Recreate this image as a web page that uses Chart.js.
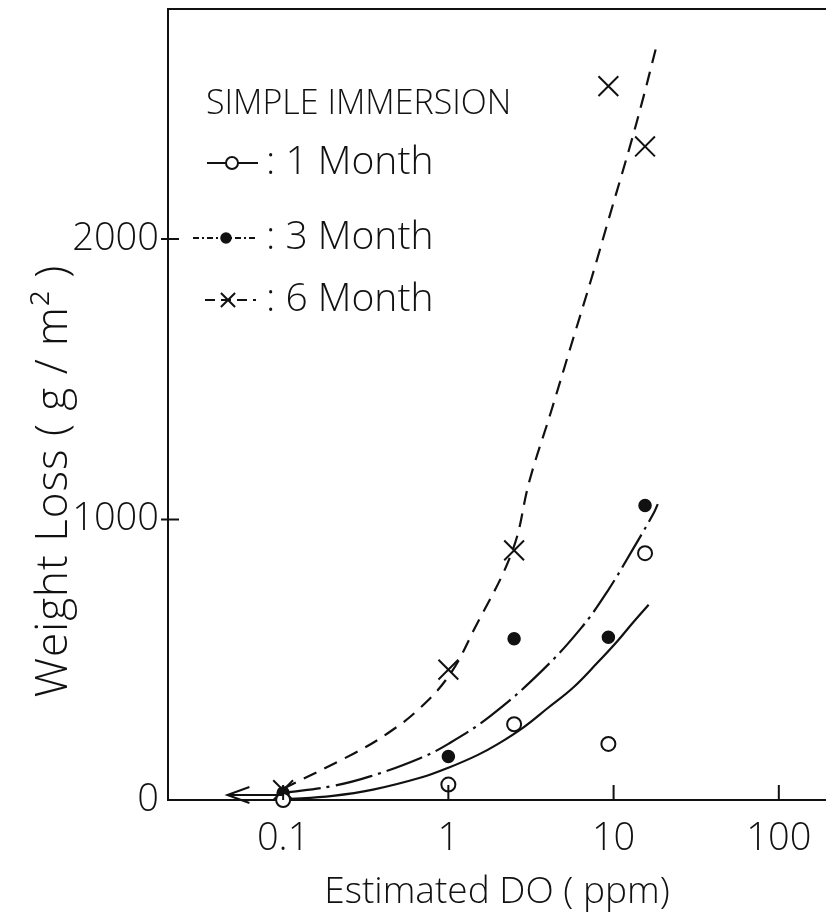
<!DOCTYPE html>
<html>
<head>
<meta charset="utf-8">
<script src="https://cdn.jsdelivr.net/npm/chart.js@4/dist/chart.umd.min.js"></script>
<style>
  html, body { margin: 0; padding: 0; background: #fff; }
  canvas { display: block; }
</style>
</head>
<body>
<canvas id="c" width="826" height="921"></canvas>
<script>
// Measured weight loss at each dissolved-oxygen level
const doPpm = [0.1, 1, 2.5, 9.3, 15.5];
const loss1Month = [0, 55, 270, 200, 880];
const loss3Month = [25, 155, 575, 580, 1050];
const loss6Month = [35, 465, 890, 2545, 2330];

// Hand-drawn trend curves through each series
const fit1Do   = [0.1, 0.2, 0.35, 0.7, 1, 1.5, 2, 2.85, 4, 5.7, 8, 10.6, 13, 16.3];
const fit1Loss = [2, 15, 37, 82, 115, 160, 200, 259, 328, 401, 490, 568, 630, 696];

const fit3Do   = [0.1, 0.2, 0.34, 0.68, 1, 1.8, 3.6, 6.3, 9.2, 13.2, 17.5, 18.5];
const fit3Loss = [25, 50, 85, 150, 200, 300, 455, 610, 745, 898, 1023, 1055];

const fit6Do   = [0.1, 0.27, 0.43, 0.68, 1.03, 1.42, 2.44, 3.1, 4.15, 5.5, 7.3, 9.6, 12.5, 15.0, 18.0];
const fit6Loss = [40, 167, 238, 330, 451, 604, 888, 1139, 1378, 1616, 1854, 2095, 2326, 2496, 2678];

// Axis ticks
const xTickValues = [0.1, 1, 10, 100];
const xTickLabels = ['0.1', '1', '10', '100'];
const yTickValues = [0, 1000, 2000];
const yTickLabels = ['0', '1000', '2000'];

// Values below detection: arrow pointing to lower DO
const arrowFromDo = 0.1;
const arrowToDo = 0.046;
const arrowLoss = 18;

const seriesNames = ['1 Month', '3 Month', '6 Month'];
const keyTitle = 'SIMPLE IMMERSION';
const yTitle = 'Weight Loss ( g / m\u00B2 )';

const FONT = "'Open Sans', 'DejaVu Sans', sans-serif";
const INK = '#111';

const pts = (xs, ys) => xs.map((x, i) => ({ x: x, y: ys[i] }));

const dashDot = [38, 6, 3, 6];
const dashed = [14, 9];

const data = {
  datasets: [
    { label: seriesNames[0] + ' fit', data: pts(fit1Do, fit1Loss), borderColor: INK, borderWidth: 2.2,
      pointRadius: 0, tension: 0.4, fill: false, showLine: true, order: 5 },
    { label: seriesNames[1] + ' fit', data: pts(fit3Do, fit3Loss), borderColor: INK, borderWidth: 2.2,
      borderDash: dashDot, pointRadius: 0, tension: 0.4, fill: false, showLine: true, order: 5 },
    { label: seriesNames[2] + ' fit', data: pts(fit6Do, fit6Loss), borderColor: INK, borderWidth: 2.2,
      borderDash: dashed, pointRadius: 0, tension: 0.4, fill: false, showLine: true, order: 5 },
    { label: seriesNames[0], data: pts(doPpm, loss1Month), showLine: false, pointStyle: 'circle',
      pointRadius: 7, pointBorderWidth: 2, pointBorderColor: INK, pointBackgroundColor: '#fff', clip: false, order: 1 },
    { label: seriesNames[1], data: pts(doPpm, loss3Month), showLine: false, pointStyle: 'circle',
      pointRadius: 6, pointBorderWidth: 1.5, pointBorderColor: INK, pointBackgroundColor: INK, clip: false, order: 1 },
    { label: seriesNames[2], data: pts(doPpm, loss6Month), showLine: false, pointStyle: 'crossRot',
      pointRadius: 14, pointBorderWidth: 2, pointBorderColor: INK, pointBackgroundColor: INK, clip: false, order: 1 }
  ]
};

// Frame, inward tick marks, detection arrow, y title and in-plot key
const decorations = {
  id: 'decorations',
  afterDatasetsDraw(chart) {
    const { ctx, chartArea: a, scales: { x, y } } = chart;
    ctx.save();
    ctx.strokeStyle = INK;
    ctx.fillStyle = INK;
    ctx.lineWidth = 2;
    ctx.setLineDash([]);

    // top frame line
    ctx.beginPath();
    ctx.moveTo(a.left, a.top);
    ctx.lineTo(a.right, a.top);
    ctx.stroke();

    // x ticks pointing into the plot
    xTickValues.forEach(v => {
      const px = x.getPixelForValue(v);
      ctx.beginPath();
      ctx.moveTo(px, a.bottom);
      ctx.lineTo(px, a.bottom - 15);
      ctx.stroke();
    });
    // y ticks crossing the axis
    yTickValues.forEach(v => {
      if (v === 0) return;
      const py = y.getPixelForValue(v);
      ctx.beginPath();
      ctx.moveTo(a.left - 7, py);
      ctx.lineTo(a.left + 11, py);
      ctx.stroke();
    });

    // arrow toward lower DO
    const ax0 = x.getPixelForValue(arrowFromDo);
    const ax1 = x.getPixelForValue(arrowToDo);
    const ay = y.getPixelForValue(arrowLoss);
    ctx.beginPath();
    ctx.moveTo(ax0, ay);
    ctx.lineTo(ax1, ay);
    ctx.moveTo(ax1 + 22, ay - 8);
    ctx.lineTo(ax1, ay);
    ctx.lineTo(ax1 + 22, ay + 8);
    ctx.stroke();

    // y axis title, rotated, left of the tick labels
    ctx.save();
    ctx.translate(54, 481);
    ctx.rotate(-Math.PI / 2);
    ctx.textAlign = 'center';
    ctx.textBaseline = 'middle';
    ctx.font = '300 44px ' + FONT;
    ctx.letterSpacing = '1px';
    ctx.fillText(yTitle, 0, 0);
    ctx.restore();

    // key
    ctx.textBaseline = 'middle';
    ctx.textAlign = 'left';
    ctx.font = '300 34px ' + FONT;
    ctx.fillText(keyTitle, 206, 104);

    const rows = [
      { y: 163, ds: chart.data.datasets[3], dash: [], x0: 207, x1: 258, mx: 232, r: 6 },
      { y: 238, ds: chart.data.datasets[4], dash: [6, 3, 2, 3], x0: 193, x1: 256, mx: 226, r: 5 },
      { y: 300, ds: chart.data.datasets[5], dash: [10, 6], x0: 205, x1: 256, mx: 228, r: 10 }
    ];
    rows.forEach(r => {
      ctx.setLineDash(r.dash);
      ctx.lineWidth = 2;
      ctx.strokeStyle = INK;
      ctx.beginPath();
      ctx.moveTo(r.x0, r.y);
      ctx.lineTo(r.x1, r.y);
      ctx.stroke();
      ctx.setLineDash([]);
      const ds = r.ds;
      ctx.fillStyle = ds.pointBackgroundColor;
      ctx.strokeStyle = ds.pointBorderColor;
      ctx.lineWidth = ds.pointBorderWidth;
      Chart.helpers.drawPoint(ctx, {
        pointStyle: ds.pointStyle,
        radius: r.r,
        borderWidth: ds.pointBorderWidth,
        rotation: 0
      }, r.mx, r.y);
      ctx.fillStyle = INK;
      ctx.font = '300 39px ' + FONT;
      ctx.fillText(': ' + ds.label, 266, r.y);
    });
    ctx.restore();
  }
};

function noPad(s) {
  s.paddingTop = 0; s.paddingBottom = 0; s.paddingLeft = 0; s.paddingRight = 0;
}

new Chart(document.getElementById('c'), {
  type: 'scatter',
  data: data,
  plugins: [decorations],
  options: {
    responsive: false,
    animation: false,
    devicePixelRatio: 1,
    layout: { autoPadding: false, padding: { top: 9, right: 0, left: 0, bottom: 0 } },
    plugins: { legend: { display: false }, tooltip: { enabled: false } },
    scales: {
      x: {
        type: 'logarithmic',
        position: 'bottom',
        min: 0.0201,
        max: 193,
        afterBuildTicks: s => { s.ticks = xTickValues.map(v => ({ value: v })); },
        afterFit: s => { s.height = 121; noPad(s); },
        ticks: {
          autoSkip: false, maxRotation: 0, color: INK, padding: 16,
          font: { family: FONT, size: 38, weight: 300 },
          callback: v => xTickLabels[xTickValues.indexOf(v)]
        },
        grid: { display: true, drawOnChartArea: false, drawTicks: false },
        border: { display: true, color: INK, width: 2 },
        title: {
          display: true, text: 'Estimated DO ( ppm)', color: INK,
          font: { family: FONT, size: 37, weight: 300 },
          padding: { top: 0, bottom: 6 }
        }
      },
      y: {
        type: 'linear',
        min: 0,
        max: 2820,
        afterBuildTicks: s => { s.ticks = yTickValues.map(v => ({ value: v })); },
        afterFit: s => { s.width = 168; noPad(s); },
        ticks: {
          color: INK, padding: 9,
          font: { family: FONT, size: 38, weight: 300 },
          callback: v => yTickLabels[yTickValues.indexOf(v)]
        },
        grid: { display: true, drawOnChartArea: false, drawTicks: false },
        border: { display: true, color: INK, width: 2 },
        title: { display: false }
      }
    }
  }
});
</script>
</body>
</html>
